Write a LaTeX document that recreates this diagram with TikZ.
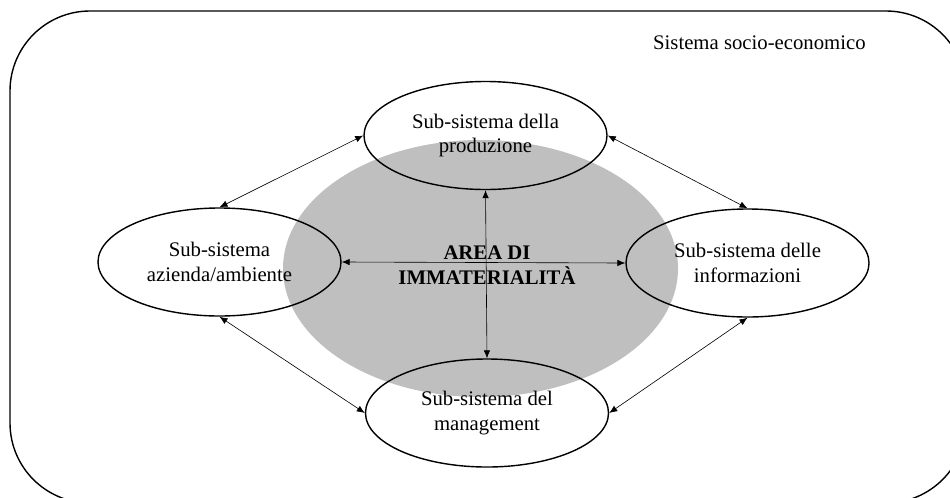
\documentclass[tikz,border=0pt]{standalone}
\usepackage{fontspec}
\setmainfont{Liberation Serif}
\usetikzlibrary{shapes.geometric,arrows.meta}

\begin{document}
\begin{tikzpicture}[x=0.2mm,y=-0.2mm,>={Latex[length=1.6mm,width=1.3mm]},
    txt/.style={font=\fontsize{11.8}{14.2}\selectfont},
    frame/.style={line width=0.8pt},
    sub/.style={ellipse,draw,line width=0.8pt,minimum width=48.6mm,minimum height=21.6mm,inner sep=0pt,align=center,txt},
    link/.style={<->,line width=0.35pt}]
    \useasboundingbox (0,0) rectangle (950,497);
    \draw[frame,rounded corners=16mm] (886,11) -- (10,11) -- (10,503) -- (886,503);
    \draw[frame] (886,11) arc[start angle=-90,end angle=0,radius=80];
    \draw[frame] (886,503) arc[start angle=90,end angle=0,radius=80];
    \node[ellipse,fill=gray!50,minimum width=79mm,minimum height=51.4mm] (area) at (480.5,268.5) {};
    \node[txt,anchor=base east,inner sep=0pt] (sys) at (866,49) {Sistema socio-economico};
    \node[sub] (prod) at (485.5,135.5) {Sub-sistema della\\produzione};
    \node[sub] (amb)  at (219.5,262)   {Sub-sistema\\azienda/ambiente};
    \node[sub] (info) at (747.5,263)   {Sub-sistema delle\\informazioni};
    \node[sub] (mgmt) at (487,413)     {Sub-sistema del\\management};
    \node[font={\fontsize{11.8}{14.2}\selectfont\bfseries},align=center] (imm) at (487,265) {AREA DI\\IMMATERIALITÀ};
    \draw[link] (prod.south) -- (mgmt.north);
    \draw[link] (amb.east)   -- (info.west);
    \draw[link] (prod.west)  -- (amb.north);
    \draw[link] (prod.east)  -- (info.north);
    \draw[link] (amb.south)  -- (mgmt.west);
    \draw[link] (info.south) -- (mgmt.east);
\end{tikzpicture}
\end{document}
